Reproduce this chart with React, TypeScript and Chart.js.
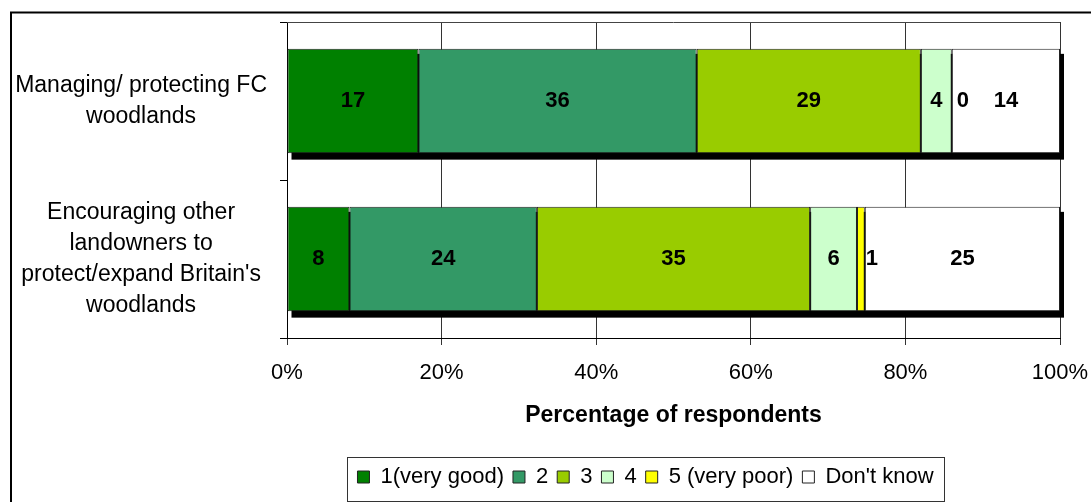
import React, { useEffect, useRef } from "react";
import { Chart, registerables } from "chart.js";

Chart.register(...registerables);

const FONT = "'Liberation Sans', Arial, sans-serif";

const categories: string[][] = [
  ["Managing/ protecting FC", "woodlands"],
  ["Encouraging other", "landowners to", "protect/expand Britain's", "woodlands"],
];
const seriesNames = ["1(very good)", "2", "3", "4", "5 (very poor)", "Don't know"];
const veryGood = [17, 8];
const two = [36, 24];
const three = [29, 35];
const four = [4, 6];
const veryPoor = [0, 1];
const dontKnow = [14, 25];
const xTicks = [0, 20, 40, 60, 80, 100];
const colors = ["#008000", "#339966", "#99CC00", "#CCFFCC", "#FFFF00", "#FFFFFF"];

const series = [veryGood, two, three, four, veryPoor, dontKnow];

export default function App() {
  const ref = useRef<HTMLCanvasElement>(null);

  useEffect(() => {
    const canvas = ref.current;
    if (!canvas) return;
    const totals = categories.map((_, i) => series.reduce((s, a) => s + a[i], 0));

    const decor = {
      id: "decor",
      beforeDraw(chart: any) {
        const ctx = chart.ctx;
        ctx.save();
        ctx.strokeStyle = "#000";
        ctx.lineWidth = 2;
        ctx.strokeRect(11, 12.5, 3000, 3000);
        ctx.restore();
      },
      afterLayout(chart: any) {
        const l = chart.legend;
        if (!l) return;
        const dx = 645.5 - (l.left + l.right) / 2;
        l.left += dx;
        l.right += dx;
        const pad = l.options.labels.padding;
        const fs = l.options.labels.font.size;
        const curText = l.top + pad + fs / 2;
        const dy = 477 - curText;
        l.top += dy;
        l.bottom += dy;
      },
      beforeDatasetsDraw(chart: any) {
        const ctx = chart.ctx;
        const first = chart.getDatasetMeta(0);
        const last = chart.getDatasetMeta(series.length - 1);
        ctx.save();
        ctx.fillStyle = "#000";
        first.data.forEach((el: any, i: number) => {
          const a = el.getProps(["base", "y", "height"], true);
          const b = last.data[i].getProps(["x"], true);
          const top = a.y - a.height / 2;
          ctx.fillRect(a.base + 4, top + 5, b.x - a.base, a.height + 1.5);
        });
        ctx.restore();
      },
      afterDatasetsDraw(chart: any) {
        const ctx = chart.ctx;
        ctx.save();
        ctx.font = `bold 22px ${FONT}`;
        ctx.fillStyle = "#000";
        ctx.textAlign = "center";
        ctx.textBaseline = "middle";
        series.forEach((vals, k) => {
          const meta = chart.getDatasetMeta(k);
          meta.data.forEach((el: any, i: number) => {
            const p = el.getProps(["x", "y", "base"], true);
            const w = Math.abs(p.x - p.base);
            let cx = (p.x + p.base) / 2;
            if (w < 12) cx += 11;
            ctx.fillText(String(vals[i]), cx, p.y);
          });
        });
        // top border of plot area
        const ca = chart.chartArea;
        ctx.strokeStyle = "#444";
        ctx.lineWidth = 1;
        ctx.beginPath();
        ctx.moveTo(ca.left, Math.round(ca.top) + 0.5);
        ctx.lineTo(ca.right, Math.round(ca.top) + 0.5);
        ctx.stroke();
        ctx.restore();
      },
      afterDraw(chart: any) {
        const l = chart.legend;
        if (!l) return;
        const ctx = chart.ctx;
        const lo = l.options.labels;
        const fs = lo.font.size;
        ctx.save();
        ctx.font = `${fs}px ${FONT}`;
        let W = 0;
        l.legendItems.forEach((it: any, i: number) => {
          W += lo.boxWidth + fs / 2 + ctx.measureText(it.text).width;
          if (i > 0) W += lo.padding;
        });
        const cx = (l.left + l.right) / 2;
        const cy = 477;
        ctx.strokeStyle = "#333";
        ctx.lineWidth = 1;
        ctx.strokeRect(Math.round(cx - W / 2 - 10) + 0.5, cy - 20 + 0.5, Math.round(W + 21), 44);
        ctx.restore();
      },
    };

    const chart = new Chart(canvas, {
      type: "bar",
      data: {
        labels: categories,
        datasets: series.map((vals, k) => ({
          label: seriesNames[k],
          data: vals.map((v, i) => (v / totals[i]) * 100),
          backgroundColor: colors[k],
          borderColor: "#222",
          borderWidth: 1,
          borderSkipped: false,
          categoryPercentage: 1,
          barPercentage: 0.66,
        })),
      },
      options: {
        indexAxis: "y",
        responsive: false,
        animation: false,
        layout: { padding: { top: 22, right: 31, left: 0, bottom: 0 } },
        plugins: {
          tooltip: { enabled: false },
          legend: {
            position: "bottom",
            labels: {
              boxWidth: 12,
              boxHeight: 12,
              padding: 9,
              color: "#000",
              font: { family: FONT, size: 22 },
            },
          },
        },
        scales: {
          x: {
            type: "linear",
            stacked: true,
            min: 0,
            max: 100,
            afterBuildTicks: (s: any) => {
              s.ticks = xTicks.map((v) => ({ value: v }));
            },
            afterFit: (s: any) => {
              s.height = 123;
              s.paddingLeft = 0;
              s.paddingRight = 0;
            },
            ticks: {
              callback: (v: any) => `${v}%`,
              color: "#000",
              font: { family: FONT, size: 22 },
              padding: 15,
              maxRotation: 0,
            },
            grid: { color: "#333", tickLength: 7 },
            border: { color: "#000", width: 1 },
            title: {
              display: true,
              text: "Percentage of respondents",
              color: "#000",
              font: { family: FONT, size: 23, weight: "bold" },
              padding: { top: 4, bottom: 32 },
            },
          },
          y: {
            type: "category",
            stacked: true,
            afterFit: (s: any) => {
              s.width = 287;
              s.paddingTop = 0;
              s.paddingBottom = 0;
            },
            grid: { drawOnChartArea: false, tickLength: 7, color: "#000", offset: true },
            border: { color: "#000", width: 1 },
            ticks: {
              crossAlign: "center",
              color: "#000",
              padding: 13,
              font: { family: FONT, size: 23, lineHeight: 1.35 },
            },
          },
        },
      },
      plugins: [decor],
    } as any);

    return () => chart.destroy();
  }, []);

  return (
    <div style={{ position: "fixed", left: 0, top: 0, width: 1091, height: 502, background: "#fff" }}>
      <canvas ref={ref} width={1091} height={502} style={{ display: "block", width: 1091, height: 502 }} />
    </div>
  );
}
